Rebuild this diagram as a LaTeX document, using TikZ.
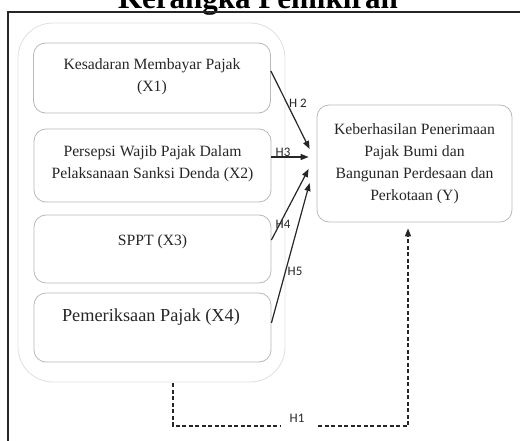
\documentclass[tikz,border=0pt]{standalone}
\usepackage{fontspec}
\setmainfont{Liberation Serif}
\newfontfamily\lblfont{Carlito}
\usetikzlibrary{arrows.meta,calc}
\begin{document}
\begin{tikzpicture}[x=1pt,y=-1pt,
  box/.style={draw=gray!55, line width=0.8pt, rounded corners=12pt, minimum width=237pt, inner sep=0pt},
  txt/.style={font=\fontsize{15.7}{22}\selectfont, align=center, inner sep=0pt, text=black!85},
  hlab/.style={font=\lblfont\fontsize{13}{13}\selectfont, inner sep=0pt, text=black!85},
  arr/.style={line width=1.2pt, black!85, -{Triangle[length=8pt,width=6pt]}},
  dashline/.style={line width=1.3pt, black!85, dash pattern=on 4pt off 2.5pt}
]
\useasboundingbox (0,0) rectangle (520,441);
% title (partly cut off at the top, as in the reference)
\node[font=\bfseries\fontsize{31}{31}\selectfont, anchor=base, inner sep=0pt] (title) at (258,9) {Kerangka Pemikiran};
% frame
\draw[line width=2pt, black!85] (8,445) -- (8,12) -- (524,12);
% group outline
\node[draw=gray!25, line width=0.8pt, rounded corners=35pt, minimum width=267pt, minimum height=359pt, inner sep=0pt] (grp) at (151.5,202.5) {};
% boxes
\node[box, minimum height=70pt] (b1) at (152,78) {};
\node[box, minimum height=73pt] (b2) at (152.5,165.5) {};
\node[box, minimum height=68pt] (b3) at (152.5,249) {};
\node[box, minimum height=69pt] (b4) at (152.5,327.5) {};
\node[txt] (t1) at (152,76.5) {Kesadaran Membayar Pajak\\(X1)};
\node[txt] (t2) at (152.5,163.5) {Persepsi Wajib Pajak Dalam\\Pelaksanaan Sanksi Denda (X2)};
\node[txt] (t3) at (152.5,242) {SPPT (X3)};
\node[txt, font=\fontsize{18.3}{22}\selectfont] (t4) at (151,317) {Pemeriksaan Pajak (X4)};
% dependent
\node[box, minimum width=195pt, minimum height=117pt] (Y) at (414.5,163.5) {};
\node[txt] (tY) at (414.5,163.5) {Keberhasilan Penerimaan\\Pajak Bumi dan\\Bangunan Perdesaan dan\\Perkotaan (Y)};
% arrows
\coordinate (e2) at ($(Y.west)+(-7,-14.5)$);
\coordinate (e3) at ($(Y.west)+(-8,-6.5)$);
\coordinate (e4) at ($(Y.west)+(-8,5.5)$);
\coordinate (e5) at ($(Y.west)+(-7,19.5)$);
\draw[arr] ($(b1.east)+(0,-7)$) -- (e2);
\draw[arr] ($(b2.east)+(0,-8.5)$) -- (e3);
\draw[arr] ($(b3.east)+(0,-9)$) -- (e4);
\draw[arr] ($(b4.east)+(0,-4.5)$) -- (e5);
\node[hlab] (h2) at (298,103) {H 2};
\node[hlab] (h3) at (283,152) {H3};
\node[hlab] (h4) at (283,224) {H4};
\node[hlab] (h5) at (295,271) {H5};
% dashed H1
\coordinate (d0) at ($(grp.south)+(21.5,1)$);
\coordinate (ga) at (280,426);
\coordinate (gb) at (318,426);
\coordinate (dEnd) at ($(Y.south)+(-6.5,6)$);
\draw[dashline] (d0) |- (ga);
\draw[dashline, -{Triangle[length=8pt,width=6pt]}] (gb) -| (dEnd);
\node[hlab] (h1) at (297,418) {H1};
\end{tikzpicture}
\end{document}
